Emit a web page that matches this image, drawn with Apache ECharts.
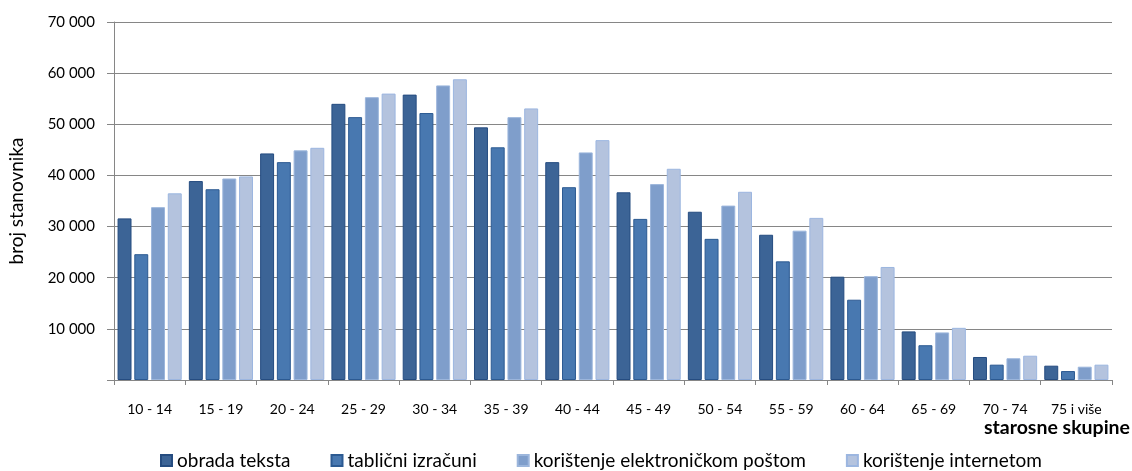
<html lang="hr">
<head>
	<meta charset="utf-8">
	<title>Broj stanovnika po starosnim skupinama</title>
	<script src="https://cdn.jsdelivr.net/npm/echarts@6/dist/echarts.min.js"></script>
	<style>
		html, body { margin: 0; padding: 0; background: #fff; }
		#chart { width: 1132px; height: 471px; }
	</style>
</head>
<body>
	<div id="chart"></div>
	<script>
		var categories = ['10 - 14', '15 - 19', '20 - 24', '25 - 29', '30 - 34', '35 - 39', '40 - 44',
			'45 - 49', '50 - 54', '55 - 59', '60 - 64', '65 - 69', '70 - 74', '75 i više'];
		var obradaTeksta = [31600, 38900, 44300, 54000, 55800, 49400, 42600, 36700, 32900, 28400, 20200, 9500, 4500, 2800];
		var tablicniIzracuni = [24600, 37300, 42600, 51400, 52200, 45500, 37700, 31500, 27600, 23200, 15700, 6800, 3000, 1750];
		var elektronickaPosta = [33800, 39400, 44900, 55300, 57600, 51400, 44500, 38300, 34100, 29200, 20300, 9300, 4250, 2600];
		var internet = [36500, 39800, 45400, 56000, 58800, 53100, 46900, 41300, 36800, 31700, 22100, 10200, 4750, 3000];
		var seriesNames = ['obrada teksta', 'tablični izračuni', 'korištenje elektroničkom poštom', 'korištenje internetom'];

		var font = 'Lato, "Open Sans", sans-serif';
		var chart = echarts.init(document.getElementById('chart'));

		function bar(name, data, color, border) {
			return {
				name: name,
				type: 'bar',
				data: data,
				barGap: '20%',
				barCategoryGap: '10%',
				itemStyle: { color: color, borderColor: border, borderWidth: 1 },
				emphasis: { disabled: true }
			};
		}

		chart.setOption({
			animation: false,
			textStyle: { fontFamily: font },
			grid: { left: 114, right: 20, top: 22, bottom: 91, outerBoundsMode: 'none', containLabel: false },
			legend: {
				left: 160,
				top: 451,
				padding: 0,
				itemWidth: 11,
				itemHeight: 11,
				itemGap: 40,
				icon: 'rect',
				textStyle: { fontSize: 19, color: '#000', fontFamily: font },
				data: seriesNames
			},
			xAxis: {
				type: 'category',
				data: categories,
				name: 'starosne skupine',
				nameLocation: 'end',
				nameGap: 18,
				nameTextStyle: {
					fontWeight: 'bold', fontSize: 19.5, color: '#000',
					align: 'right', verticalAlign: 'top', padding: [38, 0, 0, 0]
				},
				axisLine: { lineStyle: { color: '#868686' } },
				axisTick: { show: true, length: 5, lineStyle: { color: '#868686' } },
				axisLabel: { color: '#000', fontSize: 14, margin: 22 }
			},
			yAxis: {
				type: 'value',
				min: 0,
				max: 70000,
				interval: 10000,
				name: 'broj stanovnika',
				nameLocation: 'middle',
				nameGap: 88,
				nameTextStyle: { fontSize: 19, color: '#000' },
				axisLine: { show: true, lineStyle: { color: '#868686' } },
				axisTick: { show: true, length: 7, lineStyle: { color: '#868686' } },
				axisLabel: {
					color: '#000', fontSize: 15, margin: 19,
					formatter: function (v) {
						if (v === 0) return '';
						return String(v).replace(/\B(?=(\d{3})+(?!\d))/g, ' ');
					}
				},
				splitLine: { lineStyle: { color: '#868686', width: 1 } }
			},
			series: [
				bar(seriesNames[0], obradaTeksta, '#3C6496', '#254C80'),
				bar(seriesNames[1], tablicniIzracuni, '#4878B0', '#2C5A92'),
				bar(seriesNames[2], elektronickaPosta, '#7F9ECB', '#9CB6DC'),
				bar(seriesNames[3], internet, '#B4C3DE', '#9CB6E0')
			]
		});
	</script>
</body>
</html>
